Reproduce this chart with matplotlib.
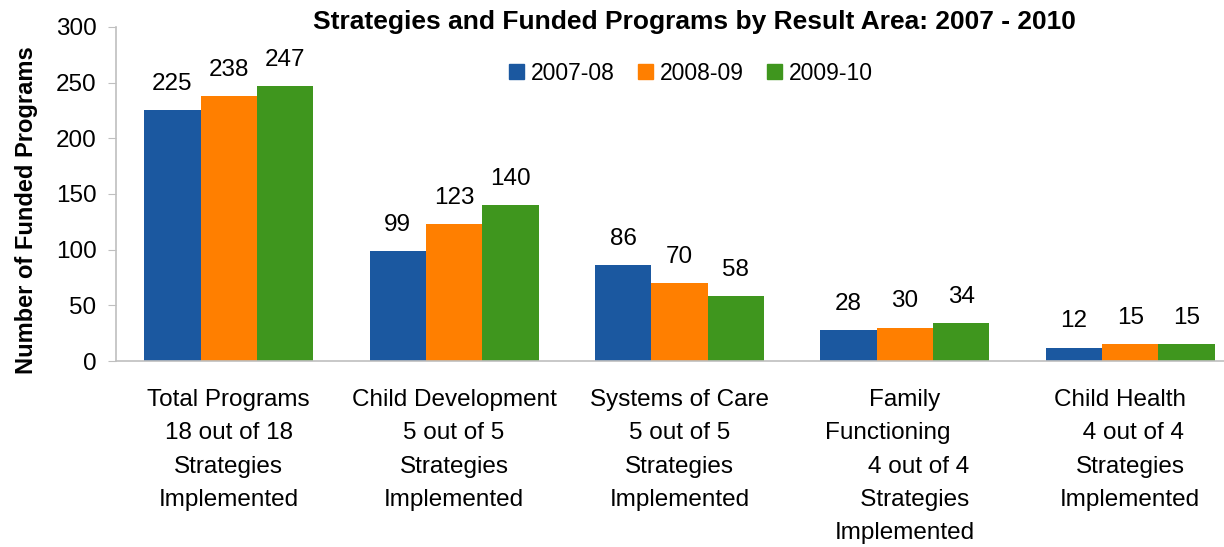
import matplotlib
matplotlib.use("Agg")
import matplotlib.pyplot as plt
import numpy as np
from matplotlib.patches import Patch

plt.rcParams['font.family'] = ['Liberation Sans', 'DejaVu Sans']

categories = [
    "Total Programs\n18 out of 18\nStrategies\nImplemented",
    "Child Development\n5 out of 5\nStrategies\nImplemented",
    "Systems of Care\n5 out of 5\nStrategies\nImplemented",
    "Family\nFunctioning     \n    4 out of 4\n   Strategies\nImplemented",
    "Child Health   \n 4 out of 4\nStrategies\nImplemented",
]
series_names = ["2007-08", "2008-09", "2009-10"]
v_2007_08 = [225, 99, 86, 28, 12]
v_2008_09 = [238, 123, 70, 30, 15]
v_2009_10 = [247, 140, 58, 34, 15]
colors = ["#1B58A0", "#FF7F00", "#3F961E"]
yticks = [0, 50, 100, 150, 200, 250, 300]

W, H = 1224, 547
fig = plt.figure(figsize=(W / 100, H / 100), dpi=100)
ax = fig.add_axes([116 / W, 1 - 361 / H, (1243 - 116) / W, (361 - 27) / H])

x = np.arange(len(categories))
bw = 0.25
series = [v_2007_08, v_2008_09, v_2009_10]
for i, (vals, c, name) in enumerate(zip(series, colors, series_names)):
    pos = x + (i - 1) * bw
    ax.bar(pos, vals, width=bw, color=c, label=name, linewidth=0)
    for xp, v in zip(pos, vals):
        ax.annotate(str(v), (xp, v), xytext=(0, 11), textcoords="offset points",
                    ha="center", va="bottom", fontsize=17.5)

ax.set_xlim(-0.5, len(categories) - 0.5)
ax.set_ylim(0, 300)
ax.set_yticks(yticks)
ax.set_xticks(x)
ax.set_xticklabels(categories, fontsize=17.5, linespacing=1.67)
ax.tick_params(axis='x', length=0, pad=20)
ax.tick_params(axis='y', labelsize=17.5, length=6, color="#BFBFBF", pad=8)
for s in ['top', 'right']:
    ax.spines[s].set_visible(False)
for s in ['left', 'bottom']:
    ax.spines[s].set_color("#BFBFBF")
    ax.spines[s].set_linewidth(1.2)

fig.text(27 / W, 1 - 210 / H, "Number of Funded Programs", rotation=90,
         ha="center", va="center", fontsize=17, fontweight='bold')

fig.text(694 / W, 1 - 22 / H, "Strategies and Funded Programs by Result Area: 2007 - 2010",
         ha="center", va="center", fontsize=19, fontweight='bold')

handles = [Patch(color=c, label=n) for c, n in zip(colors, series_names)]
fig.legend(handles=handles, loc="center", bbox_to_anchor=(691 / W, 1 - 73 / H), ncol=3,
           frameon=False, fontsize=16.5, handlelength=0.65, handleheight=0.65,
           handletextpad=0.3, columnspacing=1.0)

fig.savefig("out.png", dpi=100)
